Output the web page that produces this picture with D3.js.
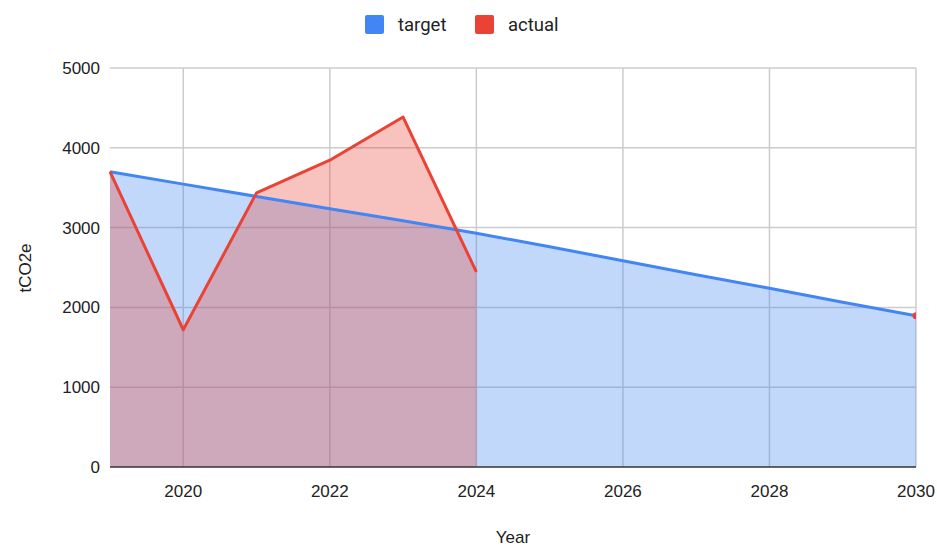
<!DOCTYPE html>
<html>
<head>
    <script src="https://d3js.org/d3.v7.min.js"></script>
    <style>
        body { margin: 0; background: #fff; }
        text { font-family: "Liberation Sans", Arial, sans-serif; fill: #222; }
        .legend text { font-family: Roboto, "Liberation Sans", sans-serif; font-size: 18.5px; }
    </style>
</head>
<body>
    <svg width="937" height="548"></svg>
    <script>
        var years = [2019, 2020, 2021, 2022, 2023, 2024, 2025, 2026, 2027, 2028, 2029, 2030];
        var target = [3700, 3545, 3390, 3235, 3085, 2930, 2760, 2585, 2410, 2240, 2065, 1895];
        var actual = [3700, 1720, 3435, 3845, 4385, 2445, null, null, null, null, null, 1895];
        var xTicks = [2020, 2022, 2024, 2026, 2028, 2030];
        var yTicks = [0, 1000, 2000, 3000, 4000, 5000];

        var svg = d3.select("svg"),
            margin = {top: 68, right: 21, bottom: 81, left: 110},
            width = +svg.attr("width") - margin.left - margin.right,
            height = +svg.attr("height") - margin.top - margin.bottom;

        var x = d3.scaleLinear().domain([2019, 2030]).range([0, width]);
        var y = d3.scaleLinear().domain([0, 5000]).range([height, 0]);

        var g = svg.append("g").attr("transform", "translate(" + margin.left + "," + margin.top + ")");

        // grid
        g.append("g").selectAll("line").data(yTicks.slice(1)).enter().append("line")
            .attr("x1", 0).attr("x2", width)
            .attr("y1", d => y(d)).attr("y2", d => y(d))
            .attr("stroke", "#cccccc").attr("stroke-width", 1.5);
        g.append("g").selectAll("line").data(xTicks).enter().append("line")
            .attr("x1", d => x(d)).attr("x2", d => x(d))
            .attr("y1", 0).attr("y2", height)
            .attr("stroke", "#cccccc").attr("stroke-width", 1.5);

        var tData = years.map((d, i) => ({year: d, v: target[i]}));
        var aData = years.map((d, i) => ({year: d, v: actual[i]}));

        var area = d3.area().defined(d => d.v != null)
            .x(d => x(d.year)).y0(y(0)).y1(d => y(d.v));
        var line = d3.line().defined(d => d.v != null)
            .x(d => x(d.year)).y(d => y(d.v));

        g.append("path").datum(tData).attr("d", area)
            .attr("fill", "#4285f4").attr("fill-opacity", 0.32);
        var aRun = aData.filter((d, i) => i <= 5);
        g.append("path").datum(aRun).attr("d", area)
            .attr("fill", "#ea4335").attr("fill-opacity", 0.32);

        // baseline
        g.append("line").attr("x1", 0).attr("x2", width)
            .attr("y1", y(0)).attr("y2", y(0))
            .attr("stroke", "#333").attr("stroke-width", 1.5);

        g.append("path").datum(tData).attr("d", line)
            .attr("fill", "none").attr("stroke", "#4285f4").attr("stroke-width", 3);
        g.append("path").datum(aRun).attr("d", line)
            .attr("fill", "none").attr("stroke", "#ea4335").attr("stroke-width", 3)
            .attr("stroke-linejoin", "round");

        // isolated actual point
        svg.append("clipPath").attr("id", "clip").append("rect")
            .attr("x", -2).attr("y", -5).attr("width", width + 2).attr("height", height + 10);
        g.append("g").attr("clip-path", "url(#clip)")
            .selectAll("circle").data(aData.filter((d, i) => i > 5 && d.v != null)).enter()
            .append("circle")
            .attr("cx", d => x(d.year)).attr("cy", d => y(d.v)).attr("r", 3.5)
            .attr("fill", "#ea4335");

        // axes labels
        g.append("g").selectAll("text").data(yTicks).enter().append("text")
            .attr("x", -10).attr("y", d => y(d)).attr("dy", "0.35em")
            .attr("text-anchor", "end").attr("font-size", 17).text(d => d);
        g.append("g").selectAll("text").data(xTicks).enter().append("text")
            .attr("x", d => x(d)).attr("y", height + 30)
            .attr("text-anchor", "middle").attr("font-size", 17).text(d => d);

        svg.append("text").attr("x", 513).attr("y", 543)
            .attr("text-anchor", "middle").attr("font-size", 17).text("Year");
        svg.append("text").attr("transform", "translate(31,268) rotate(-90)")
            .attr("text-anchor", "middle").attr("font-size", 17).text("tCO2e");

        // legend
        var legend = svg.append("g").attr("class", "legend");
        var items = [{name: "target", color: "#4285f4", x: 365}, {name: "actual", color: "#ea4335", x: 475}];
        var li = legend.selectAll("g").data(items).enter().append("g")
            .attr("transform", d => "translate(" + d.x + ",15)");
        li.append("rect").attr("width", 19).attr("height", 19).attr("rx", 2).attr("fill", d => d.color);
        li.append("text").attr("x", 33).attr("y", 16).text(d => d.name);
    </script>
</body>
</html>
